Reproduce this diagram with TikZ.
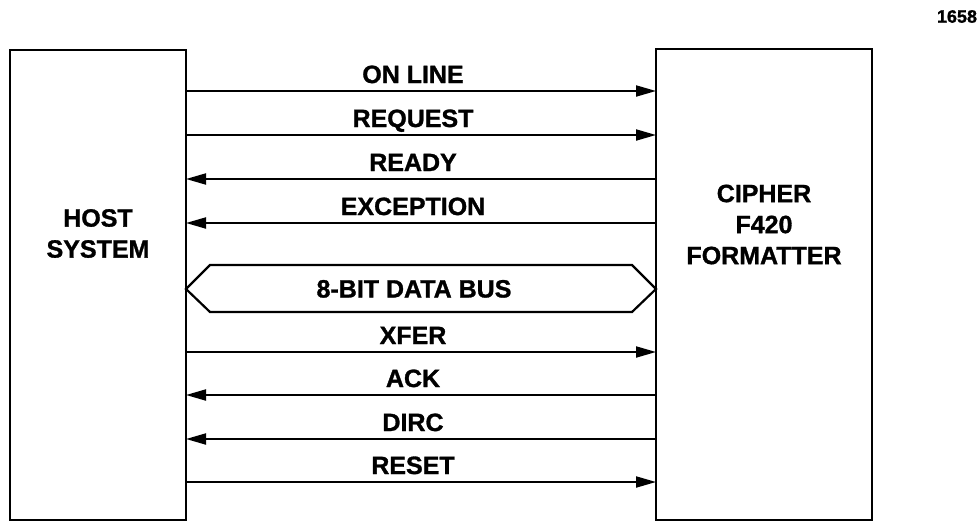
\documentclass[tikz,border=0pt]{standalone}
\usepackage{fontspec}
\setmainfont{Liberation Sans}[BoldFont=Liberation Sans Bold, BoldFeatures={FakeBold=1.2}]
\usetikzlibrary{arrows.meta}
\begin{document}
\begin{tikzpicture}[x=1pt,y=-1pt,
  unitbox/.style={draw, line width=2.6pt, rectangle, outer sep=0pt, inner sep=0pt},
  bigtxt/.style={font=\bfseries\fontsize{25}{31}\selectfont, align=center, inner sep=0pt},
  siglabel/.style={font=\bfseries\fontsize{25}{30}\selectfont, inner sep=0pt, anchor=base},
  sig/.style={line width=2pt, -{Triangle[length=20pt,width=11pt]}},
  busline/.style={line width=2.2pt, line join=miter}
]
\useasboundingbox (0,0) rectangle (980,522);
% boxes
\node[unitbox, minimum width=176pt, minimum height=470pt] (host) at (98,285) {};
\node[unitbox, minimum width=216pt, minimum height=471pt] (fmt) at (764,284.5) {};
\node[bigtxt] (hostlbl) at (98,233.5) {HOST\\SYSTEM};
\node[bigtxt] (fmtlbl) at (764,224.5) {CIPHER\\F420\\FORMATTER};
\node[font=\bfseries\fontsize{18}{20}\selectfont, inner sep=0pt] (fig) at (957,16.5) {1658};
% connector endpoints
\foreach \n/\y in {a/91,b/135,c/179,d/223,e/352,f/395,g/439,h/482}{
  \coordinate (h\n) at (186,\y);
  \coordinate (f\n) at (656,\y);
}
\draw[sig] (ha) -- (fa);
\draw[sig] (hb) -- (fb);
\draw[sig] (fc) -- (hc);
\draw[sig] (fd) -- (hd);
\draw[sig] (he) -- (fe);
\draw[sig] (ff) -- (hf);
\draw[sig] (fg) -- (hg);
\draw[sig] (hh) -- (fh);
% labels
\node[siglabel] (lon) at (413,83) {ON LINE};
\node[siglabel] (lreq) at (413,127) {REQUEST};
\node[siglabel] (lrdy) at (413,171) {READY};
\node[siglabel] (lexc) at (413,215) {EXCEPTION};
\node[siglabel] (lxfer) at (413,344) {XFER};
\node[siglabel] (lack) at (413,387) {ACK};
\node[siglabel] (ldirc) at (413,431) {DIRC};
\node[siglabel] (lrst) at (413,474) {RESET};
% data bus
\coordinate (busL) at (186,289);
\coordinate (busR) at (656,289);
\draw[busline] (busL) -- (210,265) -- (632,265) -- (busR) -- (632,312) -- (210,312) -- cycle;
\node[siglabel] (lbus) at (414,297.5) {8-BIT DATA BUS};
\end{tikzpicture}
\end{document}
